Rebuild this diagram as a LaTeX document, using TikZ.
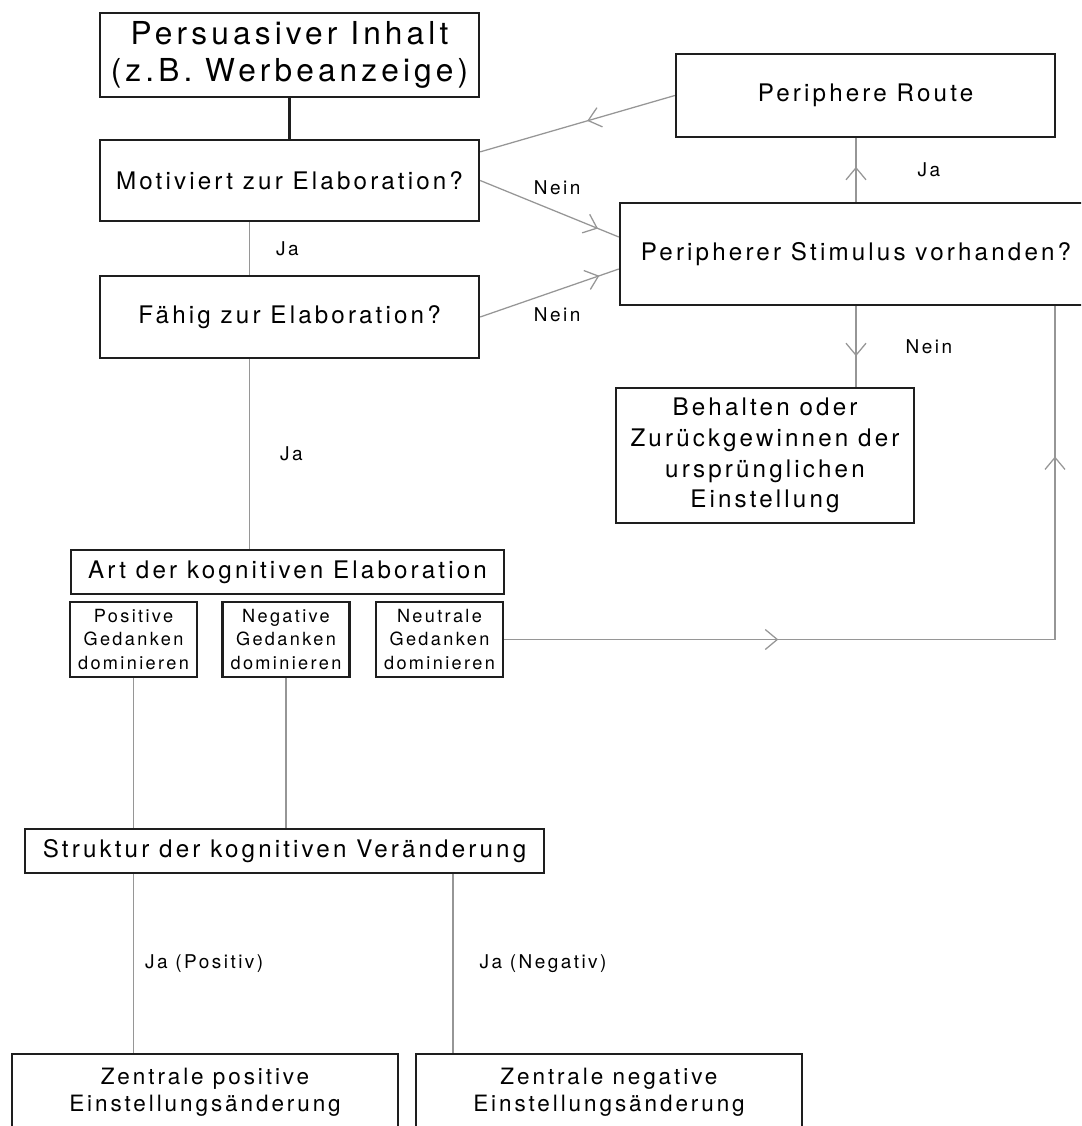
\documentclass[tikz,border=0pt]{standalone}
\usepackage{fontspec}
\setmainfont{TeX Gyre Heros}[LetterSpace=13]
\usetikzlibrary{positioning,arrows.meta,decorations.markings}
\definecolor{linegray}{RGB}{150,150,150}
\definecolor{boxblack}{RGB}{30,30,30}
\tikzset{
  box/.style={rectangle, draw=boxblack, line width=1.6pt, inner sep=0pt, align=center, text centered},
  big/.style={box, font=\fontsize{17.2}{21.8}\selectfont},
  small/.style={box, font=\fontsize{12.9}{16.4}\selectfont, minimum width=3.175cm, minimum height=1.875cm},
  result/.style={box, font=\fontsize{16}{19.2}\selectfont, minimum width=9.65cm, minimum height=1.9cm},
  lbl/.style={inner sep=0pt, font=\fontsize{13.5}{16}\selectfont},
  con/.style={draw=linegray, line width=0.9pt},
  midarrow/.style={postaction={decorate, decoration={markings, mark=at position #1 with {\arrow{Straight Barb[length=3mm, width=5mm, line width=0.9pt]}}}}}
}
\begin{document}
\begin{tikzpicture}[x=0.025cm, y=-0.025cm]
	\useasboundingbox (0,0) rectangle (1081,1126);
	\clip (0,0) rectangle (1081,1126);
	\node[box, font=\fontsize{22.5}{26.3}\selectfont, minimum width=9.475cm, minimum height=2.1cm] (inhalt) at (289.5,55) {Persuasiver Inhalt\\(z.B. Werbeanzeige)};
	\node[big, minimum width=9.475cm, minimum height=2.025cm] (motiv) at (289.5,180.5) {Motiviert zur Elaboration?};
	\node[big, minimum width=9.475cm, minimum height=2.05cm] (faehig) at (289.5,317) {Fähig zur Elaboration?};
	\node[big, minimum width=9.475cm, minimum height=2.075cm] (route) at (865.5,95.5) {Periphere Route};
	\node[big, minimum width=11.8cm, minimum height=2.55cm] (stim) at (856,254) {Peripherer Stimulus vorhanden?};
	\node[big, minimum width=7.45cm, minimum height=3.375cm] (behalten) at (765,455.5) {Behalten oder\\Zurückgewinnen der\\ursprünglichen\\Einstellung};
	\node[big, minimum width=10.825cm, minimum height=1.1cm] (art) at (287.5,572) {Art der kognitiven Elaboration};
	\node[small] (pos) at (133.5,639.5) {Positive\\Gedanken\\dominieren};
	\node[small] (neg) at (286,639.5) {Negative\\Gedanken\\dominieren};
	\node[small] (neut) at (439.5,639.5) {Neutrale\\Gedanken\\dominieren};
	\node[big, minimum width=12.975cm, minimum height=1.1cm] (struktur) at (284.5,851) {Struktur der kognitiven Veränderung};
	\node[result] (zpos) at (205,1092) {Zentrale positive\\Einstellungsänderung};
	\node[result] (zneg) at (609,1092) {Zentrale negative\\Einstellungsänderung};
	%
	\coordinate (faehigout) at ([xshift=-1cm]faehig.south);
	\coordinate (turn) at (1055,639.5);
	\coordinate (negjoin) at ([xshift=-3.9cm]zneg.north);
	%
	\draw[line width=1.6pt, draw=boxblack] (inhalt) -- (motiv);
	\draw[con] ([xshift=-1cm]motiv.south) -- node[lbl, right=0.65cm] {Ja} ([xshift=-1cm]faehig.north);
	\draw[con] (faehigout) -- node[lbl, right=0.75cm] {Ja} (faehigout |- art.north);
	\draw[con, midarrow=0.45] (route.west) -- ([yshift=-0.325cm]motiv.north east);
	\draw[con, midarrow=0.85] (motiv.east) -- node[lbl, above=0.34cm, xshift=0.19cm] {Nein} ([yshift=0.425cm]stim.west);
	\draw[con, midarrow=0.86] (faehig.east) -- node[lbl, below=0.35cm, xshift=0.19cm] {Nein} ([yshift=-0.375cm]stim.west);
	\draw[con, midarrow=0.55] (stim.north) -- node[lbl, right=1.525cm] {Ja} (stim.north |- route.south);
	\draw[con, midarrow=0.62] (stim.south) -- node[lbl, right=1.225cm] {Nein} (stim.south |- behalten.north);
	\draw[con, midarrow=0.31, midarrow=0.83] (neut.east) -- (turn) -- (turn |- stim.south);
	\draw[con] (pos.south) -- (pos.south |- struktur.north);
	\draw[con] (neg.south) -- (neg.south |- struktur.north);
	\draw[con] (pos.south |- struktur.south) -- node[lbl, right=0.275cm] {Ja (Positiv)} (pos.south |- zpos.north);
	\draw[con] (negjoin |- struktur.south) -- node[lbl, right=0.65cm] {Ja (Negativ)} (negjoin);
\end{tikzpicture}
\end{document}
